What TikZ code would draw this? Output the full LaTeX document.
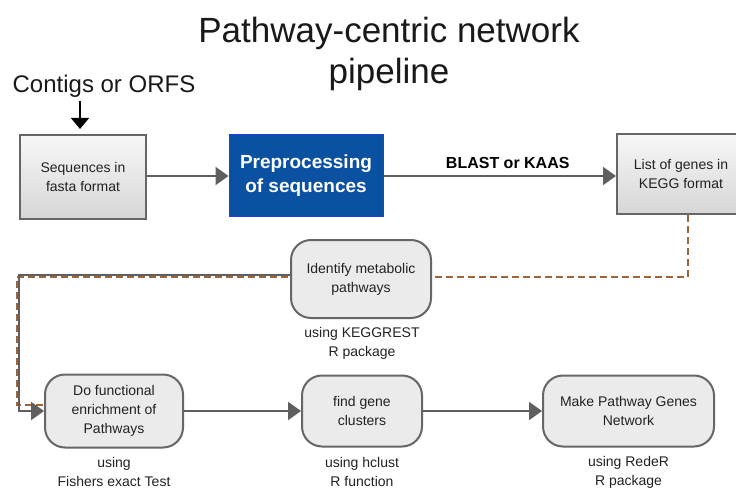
\documentclass[tikz,border=0pt]{standalone}
\usepackage{fontspec}
\setmainfont{Liberation Sans}
\usetikzlibrary{arrows.meta,backgrounds}
\definecolor{edge}{HTML}{666666}
\definecolor{conn}{HTML}{5F5F5F}
\definecolor{boxfill}{HTML}{EBEBEB}
\definecolor{blu}{HTML}{0A51A1}
\definecolor{blubord}{HTML}{1F3CF0}
\definecolor{brown}{HTML}{A0643A}
\definecolor{txt}{HTML}{222222}
\tikzset{
  sqbox/.style={draw=edge, line width=2pt, top color=white!97!black, bottom color=white!84!black,
    minimum width=#1, inner sep=0pt, align=center, text=txt, font=\fontsize{14}{19}\selectfont},
  rbox/.style={draw=edge, line width=2pt, fill=boxfill, rounded corners=20pt,
    minimum width=#1, inner sep=0pt, align=center, text=txt, font=\fontsize{14}{19}\selectfont},
  note/.style={align=center, text=txt, font=\fontsize{14}{19}\selectfont, inner sep=0pt},
  conn/.style={draw=conn, line width=2pt, -{Triangle[length=13pt,width=18pt]}},
  dashconn/.style={draw=brown, line width=2.5pt, dash pattern=on 7pt off 4pt},
}
\begin{document}
\begin{tikzpicture}[x=1pt,y=-1pt]
\useasboundingbox (0,0) rectangle (736,489);

\node[align=center, font=\fontsize{35}{41}\selectfont, text=black!90] (title) at (389,54)
  {Pathway-centric network\\pipeline};
\node[font=\fontsize{24}{27}\selectfont, text=black!90, inner sep=0pt] (contigs) at (104,86) {Contigs or ORFS};

\node[sqbox=126pt, minimum height=84pt] (seq) at (83,177) {Sequences in\\fasta format};
\node[draw=blubord, line width=1pt, fill=blu, minimum width=154pt, minimum height=82pt, inner sep=0pt,
  align=center, text=white, font=\fontsize{19}{24}\bfseries\selectfont] (pre) at (306,176)
  {Preprocessing\\of sequences};
\node[sqbox=128pt, minimum height=80pt] (list) at (681,174) {List of genes in\\KEGG format};

\node[rbox=140pt, minimum height=78pt] (ident) at (361,279) {Identify metabolic\\pathways};
\node[note] (identnote) at (362,343) {using KEGGREST\\R package};

\node[rbox=138pt, minimum height=73pt] (func) at (114,411) {Do functional\\enrichment of\\Pathways};
\node[note] (funcnote) at (114,472) {using\\Fishers exact Test};

\node[rbox=120pt, minimum height=71pt] (clust) at (362,411) {find gene\\clusters};
\node[note] (clustnote) at (362,472) {using hclust\\R function};

\node[rbox=171pt, minimum height=71pt] (net) at (628.5,411) {Make Pathway Genes\\Network};
\node[note] (netnote) at (628.5,472) {using RedeR\\R package};

% connectors
\coordinate (cstart) at (80,101);
\draw[line width=1.3pt, -{Triangle[length=11pt,width=18pt]}] (cstart) -- (cstart |- 0,129);

\draw[conn] (seq.east |- pre.west) -- (pre.west);
\draw[conn] (pre.east) -- (pre.east -| list.west)
  node[midway, above=3pt, xshift=8pt, text=black, font=\fontsize{16}{19}\bfseries\selectfont] (blast) {BLAST or KAAS};

\coordinate (lg) at (19,275);
\coordinate (ld) at (17,277);
\begin{scope}[on background layer]
\fill[white] (0,0) rectangle (736,489);
\draw[dashconn] ([xshift=7pt]list.south) |- (ld) |- ([yshift=6pt]func.west);
\end{scope}
\draw[conn] ([yshift=4pt]ident.west) -- (lg) |- (func.west);

\draw[conn] (func.east) -- (clust.west);
\draw[conn] (clust.east) -- (net.west);
\end{tikzpicture}
\end{document}
